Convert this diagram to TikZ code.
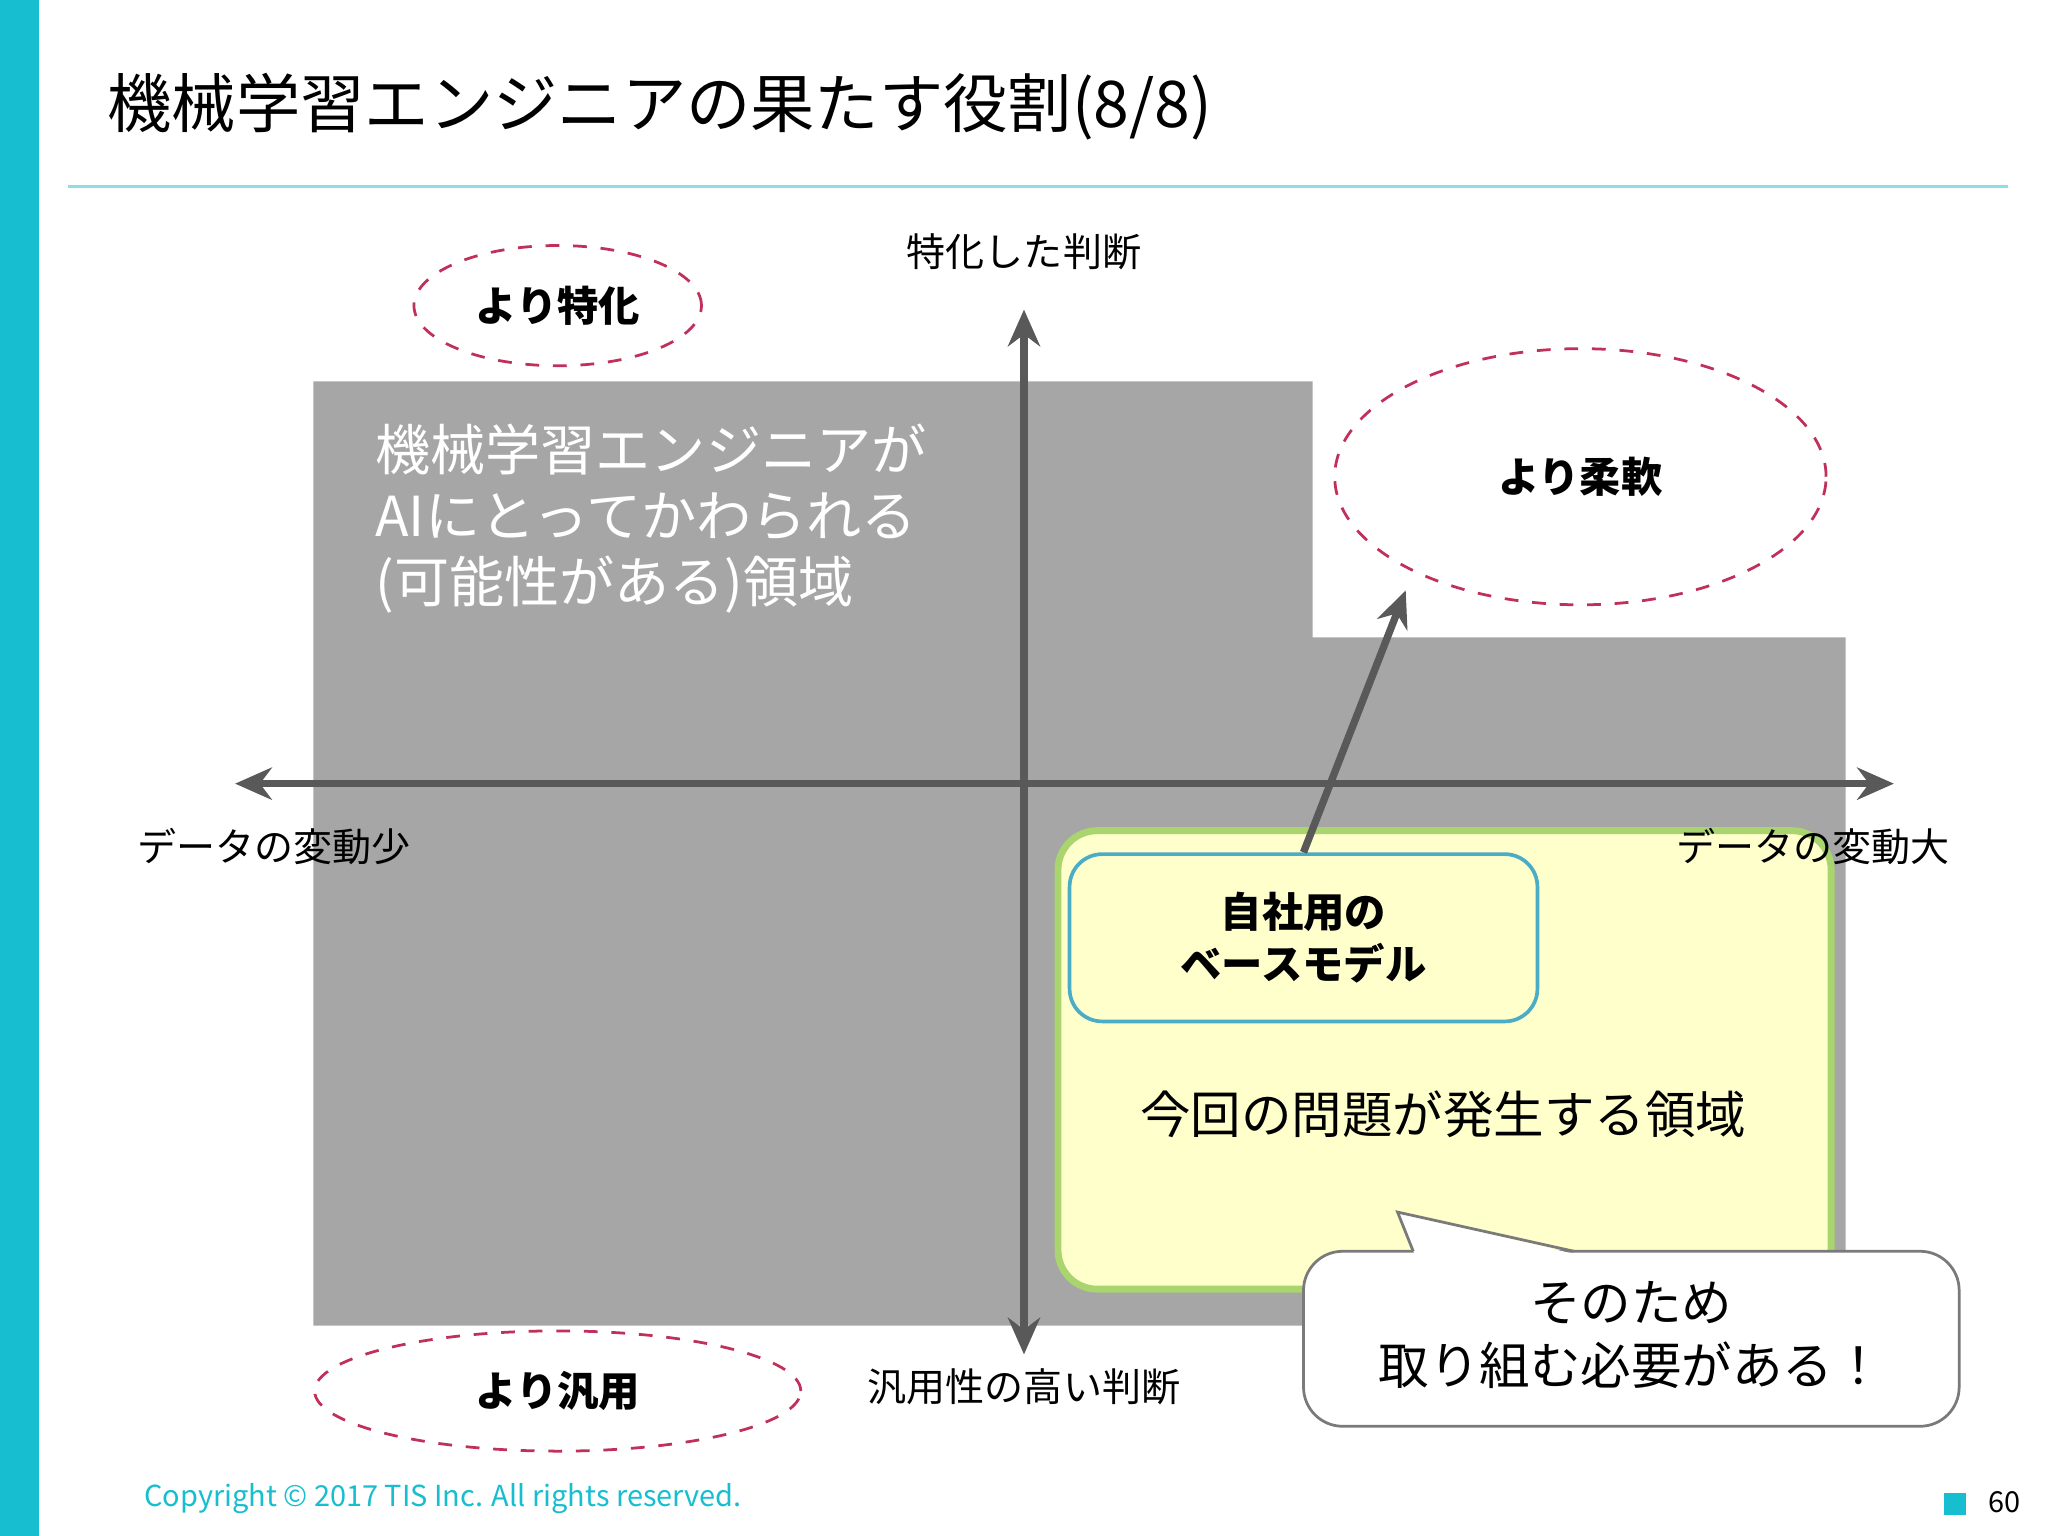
\documentclass[tikz,border=0pt]{standalone}
\usepackage{fontspec}
\setmainfont{Noto Sans CJK JP}
\usetikzlibrary{arrows.meta,shapes.geometric}
\definecolor{teal1}{HTML}{17BECF}
\definecolor{grayreg}{HTML}{A6A6A6}
\definecolor{axisc}{HTML}{595959}
\definecolor{redd}{HTML}{C0305A}
\definecolor{yel}{HTML}{FFFFCC}
\definecolor{grn}{HTML}{A9D46E}
\definecolor{bluec}{HTML}{4BACC6}
\newcommand{\fs}[1]{\fontsize{#1}{#1}\selectfont}
\tikzset{
 axisline/.style={draw=axisc,line width=1.6pt,-{Stealth[length=8pt,width=7pt]}},
 dellipse/.style={ellipse,draw=redd,dashed,line width=0.6pt},
 lbl/.style={font=\fs{8.5pt},text=black},
 bl/.style={font=\fs{9pt}\bfseries,text=black},
}
\begin{document}
\begin{tikzpicture}[x=0.01cm,y=-0.01cm]
\useasboundingbox (0,0) rectangle (1568,1176);
\fill[white] (0,0) rectangle (1568,1176);
\fill[teal1] (0,0) rectangle (30,1176);
\node[anchor=west,font=\fs{14pt}] (title) at (70,82) {機械学習エンジニアの果たす役割(8/8)};
\draw[teal1!50,line width=0.6pt] (52,143) -- (1537,143);
% gray region
\fill[grayreg] (240,292) -- (1005,292) -- (1005,488) -- (1413,488) -- (1413,1015) -- (240,1015) -- cycle;
\node[anchor=north west,align=left,text=white,font=\fs{12pt}\linespread{1.2}\selectfont] (ai) at (275,312) {機械学習エンジニアが\\AIにとってかわられる\\(可能性がある)領域};
% axes
\coordinate (vt) at (784,237); \coordinate (vb) at (784,1037);
\coordinate (hl) at (180,600); \coordinate (hr) at (1450,600);
\draw[axisline,{Stealth[length=8pt,width=7pt]}-{Stealth[length=8pt,width=7pt]}] (vb) -- (vt);
\draw[axisline,{Stealth[length=8pt,width=7pt]}-{Stealth[length=8pt,width=7pt]}] (hl) -- (hr);
\node[lbl] (top) at (784,193) {特化した判断};
\node[lbl] (bot) at (784,1062) {汎用性の高い判断};
\node[lbl] (lft) at (210,648) {データの変動少};
% ellipses
\node[dellipse,minimum width=2.2cm,minimum height=0.92cm,bl] (e1) at (427,234) {より特化};
\node[dellipse,minimum width=3.76cm,minimum height=1.96cm,bl] (e2) at (1210,365) {より柔軟};
\node[dellipse,minimum width=3.72cm,minimum height=0.92cm,bl] (e3) at (427,1065) {より汎用};
% yellow box
\draw[fill=yel,draw=grn,line width=1.5pt,rounded corners=0.3cm] (810,636) rectangle (1402,987);
\node[lbl] (rt) at (1388,648) {データの変動大};
\node[font=\fs{11pt}] (prob) at (1105,853) {今回の問題が発生する領域};
\node[draw=bluec,fill=yel,line width=0.8pt,rounded corners=0.25cm,minimum width=3.58cm,minimum height=1.28cm,align=center,font=\fs{9pt}\bfseries\linespread{1.25}\selectfont] (base) at (998,718) {自社用の\\ベースモデル};
\draw[axisc,line width=1.6pt,-{Stealth[length=8pt,width=7pt]}] (base.north) -- (e2.south west |- 0,452) coordinate (tip);
% callout
\draw[fill=white,draw=axisc!80,line width=0.6pt,rounded corners=0.3cm] (998,958) rectangle (1500,1092);
\fill[white] (1083,960) -- (1070,928) -- (1205,960) -- cycle;
\draw[axisc!80,line width=0.6pt] (1082,958) -- (1070,928) -- (1205,958);
\node[align=center,font=\fs{11pt}\linespread{1.25}\selectfont] (call) at (1249,1022) {そのため\\取り組む必要がある！};
% footer
\node[anchor=west,text=teal1,font=\fs{6.3pt}] (copy) at (98,1147) {Copyright © 2017 TIS Inc. All rights reserved.};
\fill[teal1] (1488,1143) rectangle (1505,1160);
\node[anchor=west,font=\fs{6.3pt}] (pg) at (1510,1150) {60};
\end{tikzpicture}
\end{document}
